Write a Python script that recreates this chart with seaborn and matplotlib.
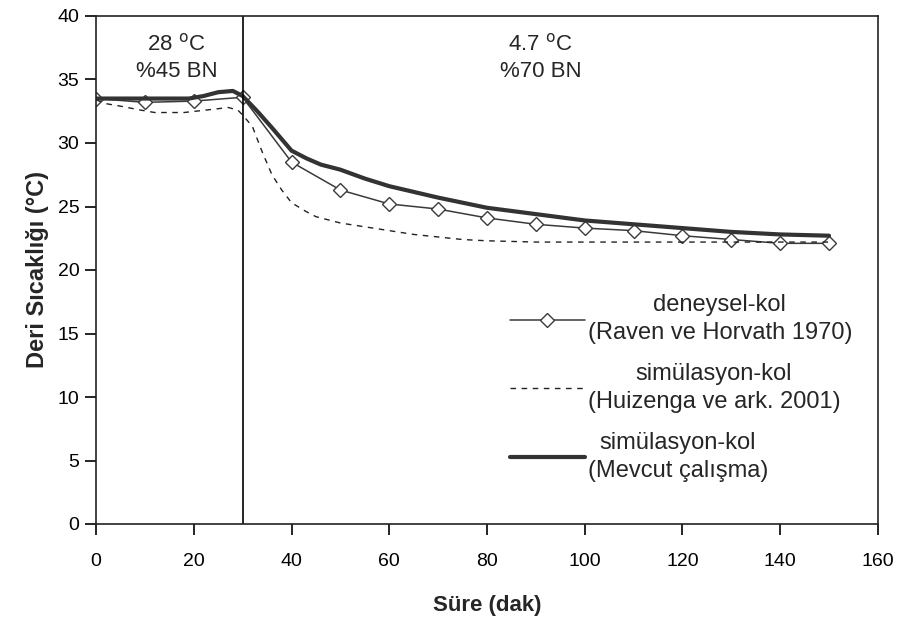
import matplotlib
matplotlib.use("Agg")
import matplotlib.pyplot as plt
import seaborn as sns
import pandas as pd

# Data
exp_t = [0, 10, 20, 30, 40, 50, 60, 70, 80, 90, 100, 110, 120, 130, 140, 150]
exp_T = [33.5, 33.2, 33.3, 33.6, 28.5, 26.3, 25.2, 24.8, 24.1, 23.6, 23.3, 23.1, 22.7, 22.4, 22.1, 22.1]

huiz_t = [0, 2, 5, 9, 12, 18, 25, 27, 29, 30, 32, 34, 36, 38, 40, 43, 45, 50, 55, 60, 65, 70, 75, 80, 90, 100, 110, 120, 130, 140, 150]
huiz_T = [33.4, 33.1, 32.9, 32.6, 32.4, 32.4, 32.7, 32.8, 32.6, 32.2, 31.3, 29.3, 27.5, 26.3, 25.3, 24.6, 24.2, 23.7, 23.4, 23.1, 22.8, 22.6, 22.4, 22.3, 22.2, 22.2, 22.2, 22.2, 22.2, 22.2, 22.2]

cur_t = [0, 10, 19, 22, 25, 28, 30, 33, 36, 40, 43, 46, 50, 55, 60, 70, 80, 90, 100, 110, 120, 130, 140, 150]
cur_T = [33.5, 33.5, 33.5, 33.7, 34.0, 34.1, 33.7, 32.5, 31.2, 29.4, 28.8, 28.3, 27.9, 27.2, 26.6, 25.7, 24.9, 24.4, 23.9, 23.6, 23.3, 23.0, 22.8, 22.7]

x_ticks = [0, 20, 40, 60, 80, 100, 120, 140, 160]
y_ticks = [0, 5, 10, 15, 20, 25, 30, 35, 40]

labels = ["deneysel-kol\n(Raven ve Horvath 1970)",
          "simülasyon-kol\n(Huizenga ve ark. 2001)",
          "simülasyon-kol\n(Mevcut çalışma)"]

sns.set_style("ticks")
plt.rcParams["font.family"] = ["Liberation Sans", "DejaVu Sans"]

fig = plt.figure(figsize=(9.06, 6.25), dpi=100)
ax = fig.add_axes([0.106, 0.1616, 0.863, 0.8128])

df_exp = pd.DataFrame({"t": exp_t, "T": exp_T})
df_h = pd.DataFrame({"t": huiz_t, "T": huiz_T})
df_c = pd.DataFrame({"t": cur_t, "T": cur_T})

sns.lineplot(data=df_exp, x="t", y="T", ax=ax, color="#3a3a3a", lw=1.1,
             marker="D", markersize=7, markerfacecolor="white",
             markeredgecolor="#3a3a3a", markeredgewidth=1.0, label=labels[0])
sns.lineplot(data=df_h, x="t", y="T", ax=ax, color="#222222", lw=1.0,
             linestyle=(0, (4, 4)), label=labels[1])
sns.lineplot(data=df_c, x="t", y="T", ax=ax, color="#333333", lw=3.0,
             label=labels[2])

ax.axvline(30, color="black", lw=1.2)

ax.set_xlim(0, 160)
ax.set_ylim(0, 40)
ax.set_xticks(x_ticks)
ax.set_yticks(y_ticks)
ax.tick_params(axis="both", direction="out", length=8, width=1.2,
               labelsize=14, colors="black")
ax.tick_params(axis="y", pad=4)
ax.tick_params(axis="x", pad=13)
for s in ax.spines.values():
    s.set_visible(True)
    s.set_color("#222222")
    s.set_linewidth(1.2)

ax.set_xlabel("Süre (dak)", fontsize=16, fontweight="bold", labelpad=18)
ax.set_ylabel("Deri Sıcaklığı (°C)", fontsize=17, fontweight="bold", labelpad=6)

ax.text(16.5, 38.6, "28 $^{\\mathrm{o}}$C\n%45 BN", ha="center", va="top",
        fontsize=16, linespacing=1.3)
ax.text(91, 38.6, "4.7 $^{\\mathrm{o}}$C\n%70 BN", ha="center", va="top",
        fontsize=16, linespacing=1.3)

leg = ax.legend(loc="upper left", bbox_to_anchor=(0.529, 0.452), frameon=False,
                fontsize=17, handlelength=3.2, handletextpad=0.1,
                labelspacing=0.8, borderpad=0, borderaxespad=0)
for t in leg.get_texts():
    t.set_multialignment("center")
    t.set_linespacing(1.35)

fig.savefig("out.png", dpi=100)
